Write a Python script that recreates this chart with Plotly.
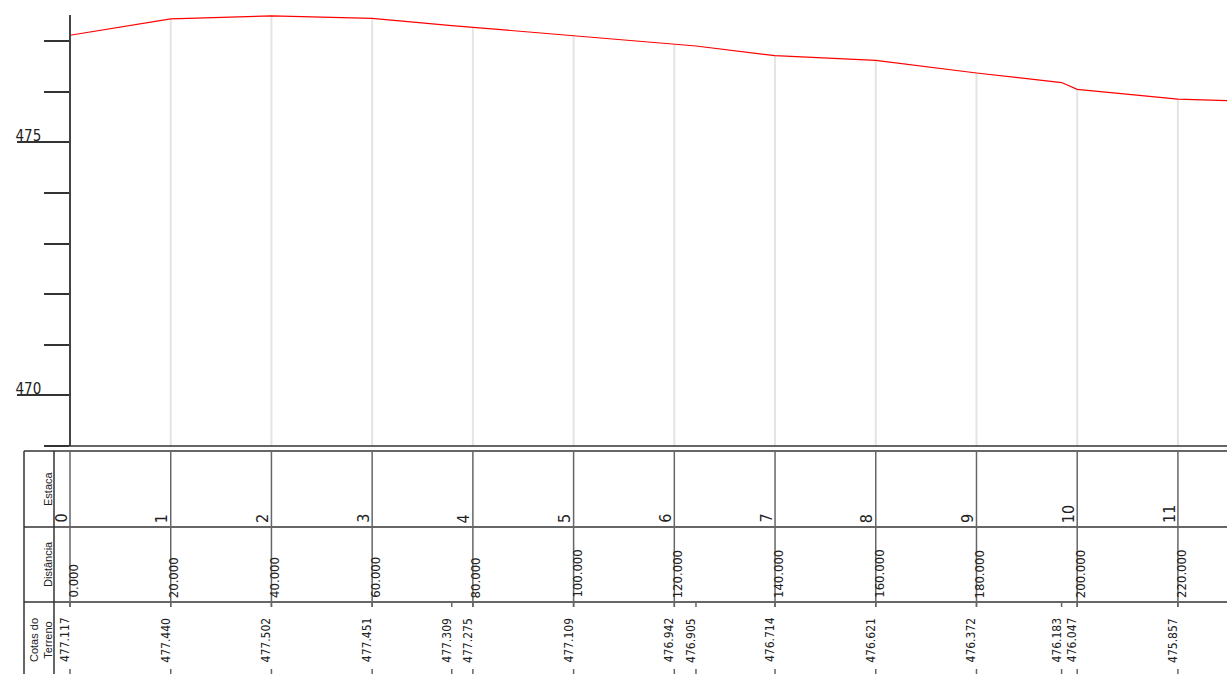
import plotly.graph_objects as go

# Terrain profile data (distance in m, ground elevation in m)
estacas = [0, 1, 2, 3, 4, 5, 6, 7, 8, 9, 10, 11, 12]
distancias = [0, 20, 40, 60, 80, 100, 120, 140, 160, 180, 200, 220, 240]
perfil_dist = [0, 20, 40, 60, 75.8, 80, 100, 120, 124.3, 140, 160, 180,
               196.9, 200, 220, 240]
perfil_cota = [477.117, 477.440, 477.502, 477.451, 477.309, 477.275, 477.109,
               476.942, 476.905, 476.714, 476.621, 476.372, 476.183, 476.047,
               475.857, 475.790]

W, H = 1227, 674
X0_PX = 70            # pixel column of distance 0
PX_PER_M = 5.036
PX_PER_UNIT = 50.6    # vertical scale of the profile
BASE = 469.0
TOP_PX, BASE_PX = 15, 446

NARROW = "Liberation Sans Narrow, DejaVu Sans Condensed, Liberation Sans, sans-serif"
PLAIN = "Liberation Sans, DejaVu Sans, sans-serif"
INK = "#222222"


def py(p):
    """pixel row -> paper y"""
    return 1 - p / H


def px(p):
    return p / W


cota_at = dict(zip(perfil_dist, perfil_cota))

fig = go.Figure()

# light vertical grid from terrain down to the base line, at each station
gx, gy = [], []
for d in distancias:
    if d in cota_at:
        gx += [d, d, None]
        gy += [cota_at[d], BASE, None]
fig.add_trace(go.Scatter(x=gx, y=gy, mode="lines",
                         line=dict(color="#e4e4e4", width=2),
                         hoverinfo="skip", showlegend=False))

# ground profile
fig.add_trace(go.Scatter(x=perfil_dist, y=perfil_cota, mode="lines",
                         line=dict(color="#ff0000", width=1.2),
                         hoverinfo="skip", showlegend=False))

shapes = []
line_dark = dict(color="#333333", width=1.5)
line_grey = dict(color="#666666", width=1.5)

# base line and table frame
shapes.append(dict(type="line", xref="paper", yref="paper",
                   x0=px(45), x1=1, y0=py(446), y1=py(446), line=line_dark))
for row in (451, 527, 602):
    shapes.append(dict(type="line", xref="paper", yref="paper",
                       x0=px(24), x1=1, y0=py(row), y1=py(row), line=line_dark))
for col in (24, 54):
    shapes.append(dict(type="line", xref="paper", yref="paper",
                       x0=px(col), x1=px(col), y0=py(451), y1=0, line=line_dark))

# station lines through the Estaca / Distância rows
for d in distancias:
    shapes.append(dict(type="line", xref="x", yref="paper",
                       x0=d, x1=d, y0=py(451), y1=py(607), line=line_grey))

# small ticks for every surveyed point in the elevation row
for d in perfil_dist:
    shapes.append(dict(type="line", xref="x", yref="paper",
                       x0=d, x1=d, y0=py(602), y1=py(607), line=line_grey))
    shapes.append(dict(type="line", xref="x", yref="paper",
                       x0=d, x1=d, y0=py(669), y1=py(674), line=line_grey))

annotations = []


def label(text, x, y, xref="paper", xshift=0, yanchor="middle", size=11,
          family=PLAIN):
    annotations.append(dict(text=text, xref=xref, yref="paper", x=x, y=y,
                            xanchor="center", yanchor=yanchor, xshift=xshift,
                            textangle=-90, showarrow=False,
                            font=dict(family=family, size=size, color=INK)))


# row headers
label("Estaca", px(48), py(489), size=11)
label("Distância", px(48), py(564), size=11)
label("Cotas do<br>Terreno", px(41), py(640), size=11)

# station numbers
for e, d in zip(estacas, distancias):
    label(str(e), d, py(525), xref="x", xshift=-9, yanchor="bottom",
          size=16, family=NARROW)

# distances
for d in distancias:
    label(f"{d:.3f}", d, py(600), xref="x", xshift=3, yanchor="bottom",
          size=13, family=NARROW)

# ground elevations
for d, c in zip(perfil_dist, perfil_cota):
    label(f"{c:.3f}", d, py(640), xref="x", xshift=-5, yanchor="middle",
          size=12, family=NARROW)

fig.update_layout(
    width=W, height=H,
    margin=dict(l=0, r=0, t=0, b=0),
    paper_bgcolor="white", plot_bgcolor="white",
    showlegend=False,
    shapes=shapes,
    annotations=annotations,
    xaxis=dict(domain=[0, 1],
               range=[-X0_PX / PX_PER_M, (W - X0_PX) / PX_PER_M],
               visible=False, showgrid=False, zeroline=False),
    yaxis=dict(domain=[py(BASE_PX), py(TOP_PX)],
               range=[BASE, BASE + (BASE_PX - TOP_PX) / PX_PER_UNIT],
               anchor="free", position=px(X0_PX), side="left",
               showline=True, linecolor="#444", linewidth=1.5,
               showgrid=False, zeroline=False,
               tickmode="linear", tick0=470, dtick=5,
               ticks="outside", ticklen=52, tickwidth=1.5, tickcolor="#333",
               ticklabelstandoff=-27, ticklabelshift=-7,
               tickfont=dict(family=NARROW, size=15, color=INK),
               minor=dict(tickmode="linear", tick0=469, dtick=1,
                          ticks="outside", ticklen=25, tickwidth=1.5,
                          tickcolor="#333", showgrid=False)),
)

fig.write_html("out.html")
